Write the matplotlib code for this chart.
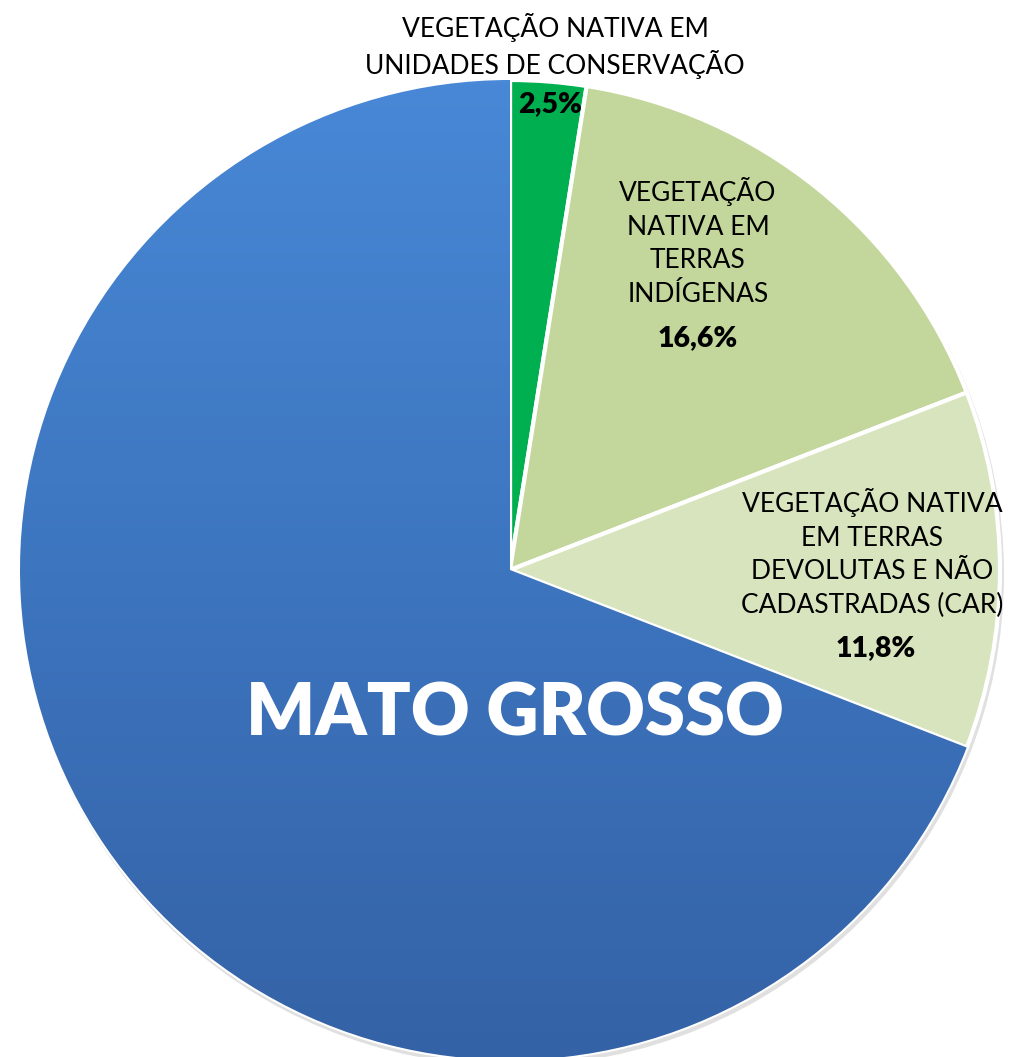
import matplotlib
matplotlib.use("Agg")
import matplotlib.pyplot as plt
import numpy as np
from matplotlib.colors import LinearSegmentedColormap

# Data
categories = ["VEGETAÇÃO NATIVA EM\nUNIDADES DE CONSERVAÇÃO",
              "VEGETAÇÃO\nNATIVA EM\nTERRAS\nINDÍGENAS",
              "VEGETAÇÃO NATIVA\nEM TERRAS\nDEVOLUTAS E NÃO\nCADASTRADAS (CAR)",
              "MATO GROSSO"]
values = [2.5, 16.6, 11.8, 69.1]
pct_labels = ["2,5%", "16,6%", "11,8%", ""]
colors = ["#00b050", "#c3d69b", "#d7e4bd", "#3f77c2"]

W, H = 1012, 1057
fig = plt.figure(figsize=(W / 100, H / 100), dpi=100)
ax = fig.add_axes([0, 0, 1, 1])
ax.set_xlim(0, W)
ax.set_ylim(0, H)
ax.set_aspect("equal")
ax.axis("off")

cx, cy, R = 510, H - 570, 490

# subtle shadow
shadow = plt.Circle((cx + 2, cy - 4), R + 2, color="#000000", alpha=0.12, zorder=0, lw=0)
ax.add_patch(shadow)

wedges, _ = ax.pie(values, colors=colors, startangle=90, counterclock=False,
                   center=(cx, cy), radius=R, frame=True,
                   wedgeprops=dict(edgecolor="white", linewidth=3.0, joinstyle="miter"))
ax.set_xlim(0, W)
ax.set_ylim(0, H)
ax.axis("off")

# gradient on the main wedge
cmap = LinearSegmentedColormap.from_list("bl", ["#3462a6", "#3d75bf", "#4888d6"])
grad = np.linspace(0, 1, 256).reshape(-1, 1)
im = ax.imshow(grad, extent=(cx - R, cx + R, cy - R, cy + R), origin="lower",
               cmap=cmap, aspect="auto", zorder=wedges[3].get_zorder() + 0.1)
im.set_clip_path(wedges[3])
ax.set_xlim(0, W)
ax.set_ylim(0, H)

fam = ["Lato", "DejaVu Sans"]
fs = 19
pfs = 20.5

# Label 1 (outside at top)
ax.text(555, H - 46, categories[0], ha="center", va="center", fontsize=fs,
        family=fam, linespacing=1.32, color="black", zorder=5)
ax.text(550, H - 104, pct_labels[0], ha="center", va="center", fontsize=pfs,
        family=fam, weight="heavy", color="black", zorder=5)

# Label 2
ax.text(698, H - 242, categories[1], ha="center", va="center", fontsize=fs,
        family=fam, linespacing=1.42, color="black", zorder=5)
ax.text(698, H - 338, pct_labels[1], ha="center", va="center", fontsize=pfs,
        family=fam, weight="heavy", color="black", zorder=5)

# Label 3
ax.text(872, H - 553, categories[2], ha="center", va="center", fontsize=fs,
        family=fam, linespacing=1.42, color="black", zorder=5)
ax.text(876, H - 648, pct_labels[2], ha="center", va="center", fontsize=pfs,
        family=fam, weight="heavy", color="black", zorder=5)

# Main label
ax.text(515, H - 714, categories[3], ha="center", va="center", fontsize=52,
        family=fam, weight="heavy", color="white", zorder=5)

fig.savefig("out.png", dpi=100, facecolor="white")
